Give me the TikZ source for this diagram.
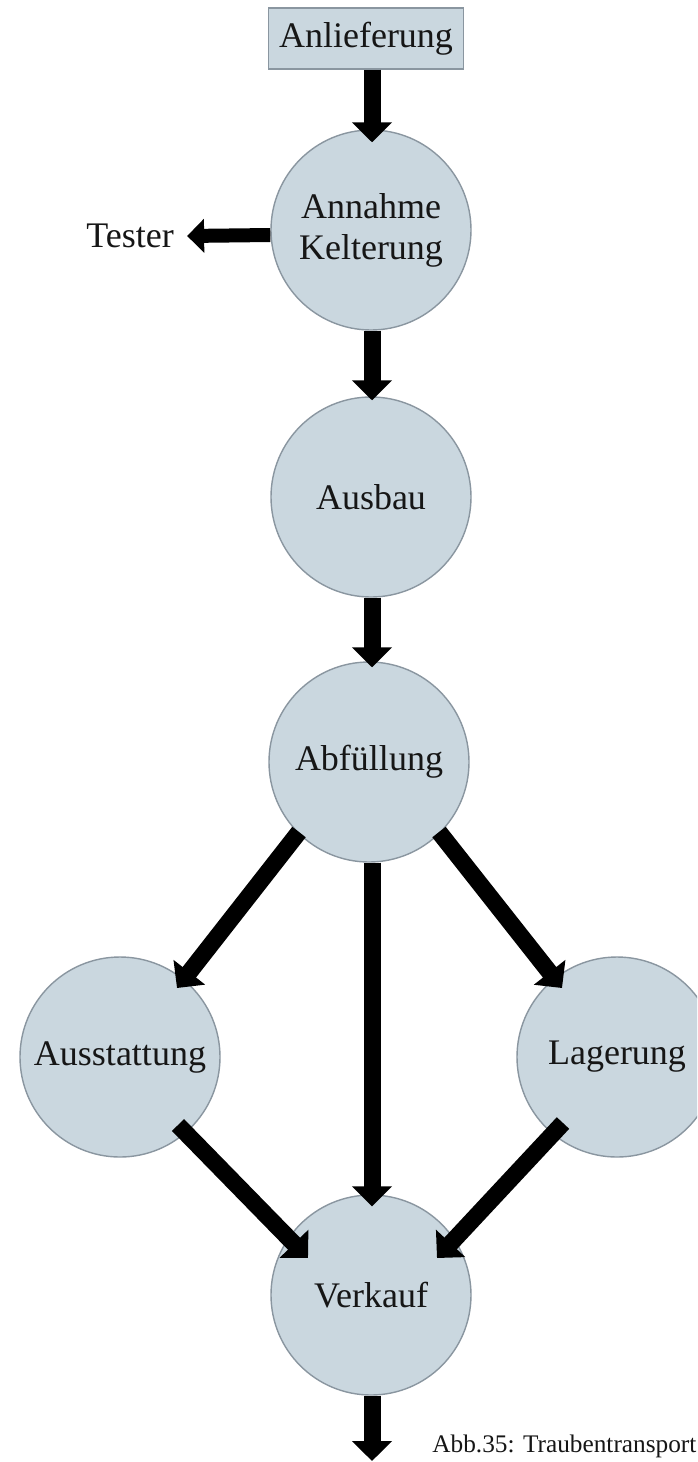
\documentclass[tikz,border=0pt]{standalone}
\usepackage{fontspec}
\setmainfont{Liberation Serif}
\usetikzlibrary{arrows.meta,calc}
\definecolor{stagefill}{RGB}{202,215,223}
\definecolor{stageline}{RGB}{138,150,160}
\definecolor{inktext}{RGB}{22,22,22}

\begin{document}
\begin{tikzpicture}[x=0.5pt,y=-0.5pt,
  stage/.style={circle,fill=stagefill,draw=stageline,line width=0.7pt,
    minimum size=100pt,inner sep=0pt,text=inktext,align=center,
    font=\fontsize{18}{20.5}\selectfont},
  source/.style={rectangle,fill=stagefill,draw=stageline,line width=0.7pt,
    minimum width=97.5pt,minimum height=30.5pt,inner sep=0pt,text=inktext,
    font=\fontsize{18}{20.5}\selectfont},
  label/.style={text=inktext,font=\fontsize{18}{20.5}\selectfont},
  flow/.style={line width=8.5pt,-{Triangle[width=19.5pt,length=10pt]}},
  sideflow/.style={line width=7pt,-{Triangle[width=16.5pt,length=8.5pt]}},
]
% page frame
\useasboundingbox (0,0) rectangle (697,1462);
\fill[white] (0,0) rectangle (697,1462);
\clip (0,0) rectangle (697,1462);

% stages
\node[source] (anl) at (366,38.5) {Anlieferung};
\node[stage]  (ann) at (371,230)  {Annahme\\Kelterung};
\node[stage]  (ausb) at (371,497) {Ausbau};
\node[stage]  (abf) at (369,762)  {Abfüllung};
\node[stage]  (aus) at (120,1057) {Ausstattung};
\node[stage]  (lag) at (617,1057) {Lagerung};
\node[stage]  (ver) at (371,1295) {Verkauf};
\node[label,inner sep=6.5pt] (tre) at (130,236) {Tester};
\coordinate (out) at (372,1461);

% caption
\node[text=inktext,font=\fontsize{12.65}{14}\selectfont,anchor=base west,inner sep=0pt]
  (cap) at (432,1452) {Abb.35: Traubentransport};

% main line
\draw[flow] (372,0 |- anl.south) -- ([yshift=-6.5pt]372,0 |- ann.north);
\draw[flow] (372,0 |- ann.south) -- ([yshift=-2pt]372,0 |- ausb.north);
\draw[flow] (372,0 |- ausb.south) -- ([yshift=-3pt]372,0 |- abf.north);
\draw[flow] (372,0 |- abf.south) -- ([yshift=-6pt]372,0 |- ver.north);
\draw[flow] (372,0 |- ver.south) -- (out);

% side output
\draw[sideflow] ([yshift=-2.5pt]ann.west) -- (tre.east);

% branches
\draw[flow] ($(abf.center)+(-70,70)$) -- ($(aus.center)+(57,-69)$);
\draw[flow] ($(abf.center)+(70,70)$)  -- ($(lag.center)+(-55,-69)$);
\draw[flow] ($(aus.center)+(58,68)$)  -- ($(ver.center)+(-63,-37)$);
\draw[flow] ($(lag.center)+(-54,66)$) -- ($(ver.center)+(66,-37)$);
\end{tikzpicture}
\end{document}
